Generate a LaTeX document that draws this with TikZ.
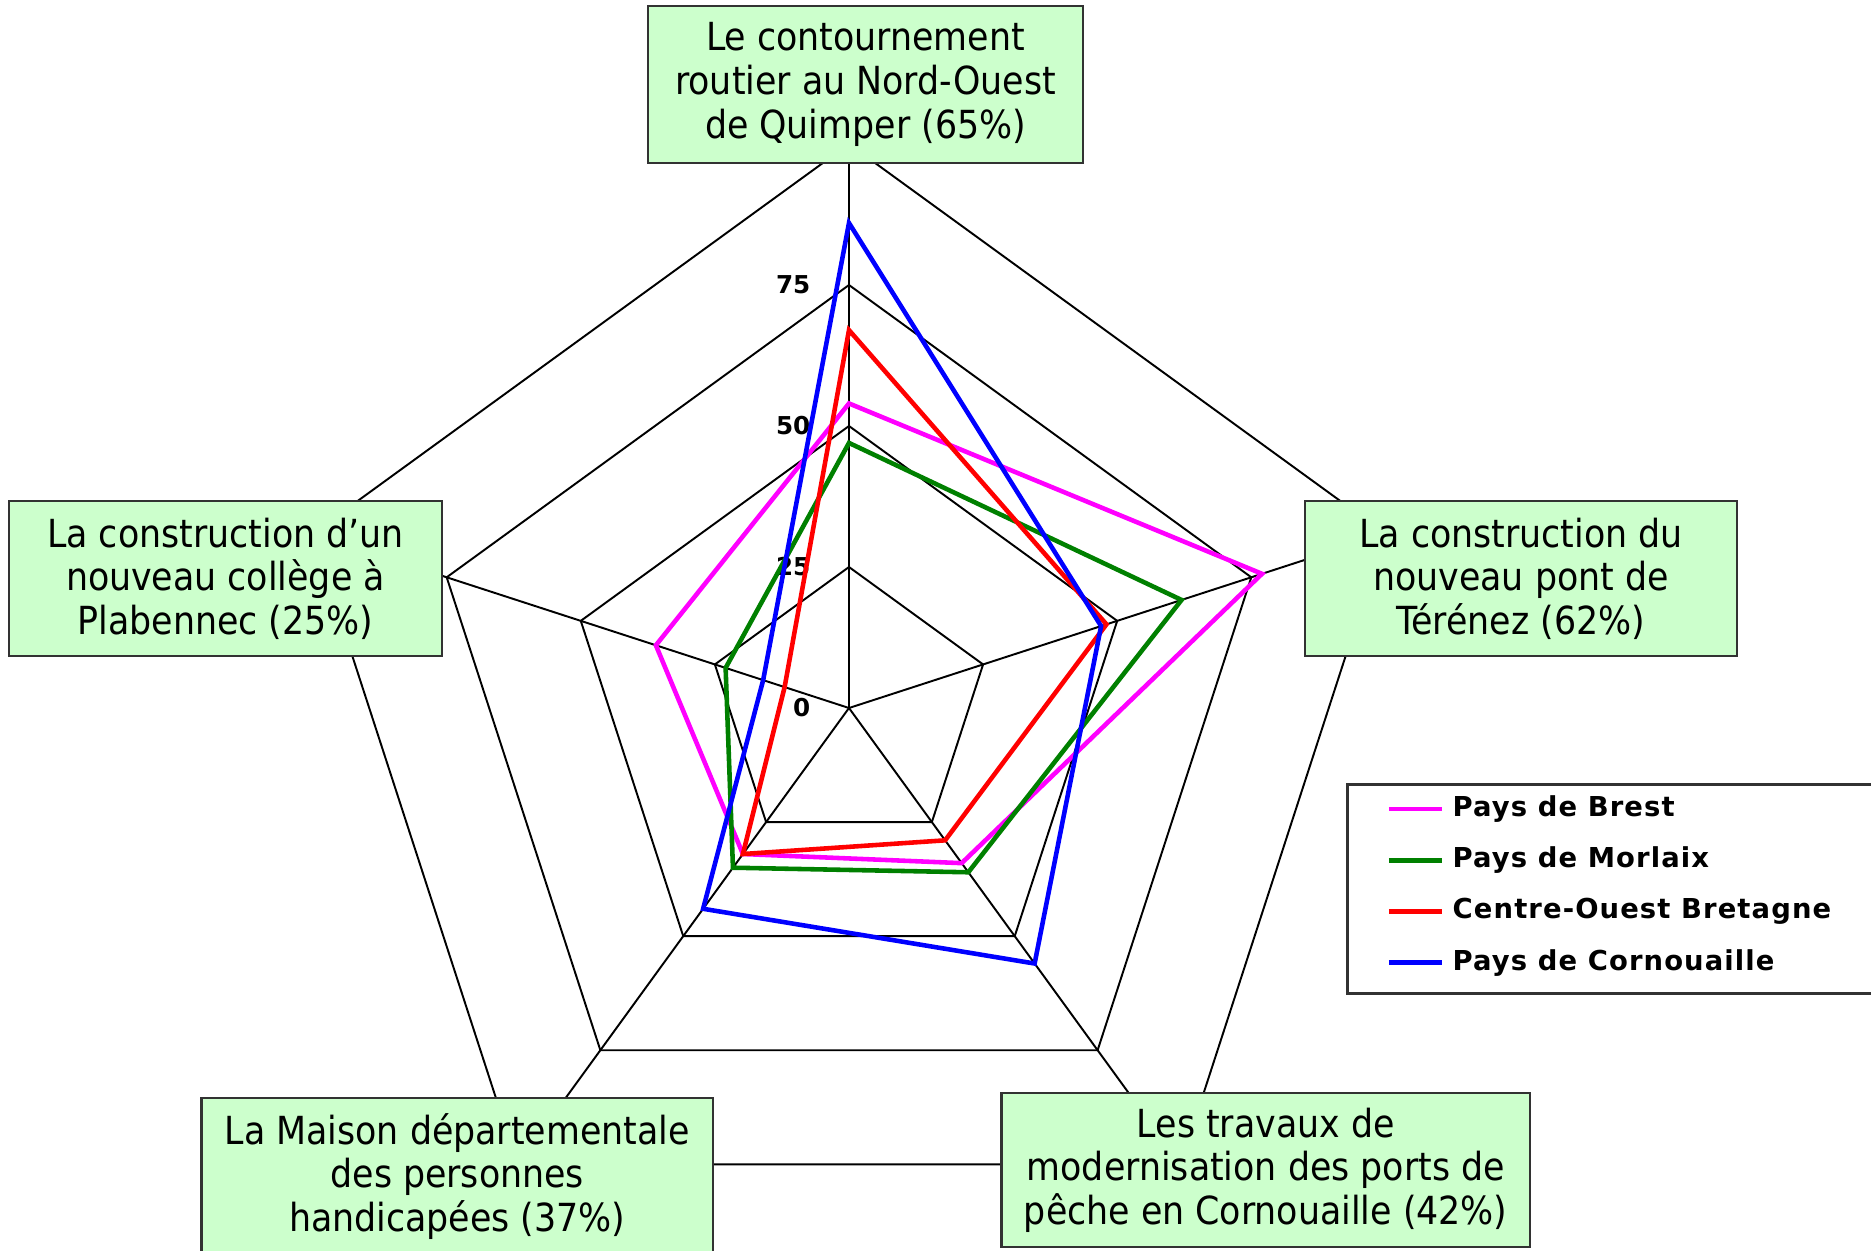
\documentclass[tikz,border=0pt]{standalone}
\usepackage{fontspec}
\setmainfont{DejaVu Sans Condensed}
\newfontfamily\legfont{DejaVu Sans}[LetterSpace=4]
\newfontfamily\gradfont{DejaVu Sans}
\definecolor{vertclair}{RGB}{204,255,204}
\definecolor{vertfonce}{RGB}{0,128,0}
\definecolor{rose}{RGB}{255,0,255}
\definecolor{rouge}{RGB}{255,0,0}
\definecolor{bleu}{RGB}{0,0,255}
\definecolor{bordgris}{RGB}{50,50,50}

\begin{document}
\begin{tikzpicture}[x=0.01cm, y=0.01cm,
  boite/.style={draw=bordgris, line width=0.7pt, fill=vertclair, align=center, inner sep=0pt,
    font=\fontsize{11}{12.4}\selectfont},
  serie/.style={line width=1.3pt, line join=miter}]
  \useasboundingbox (-849,-542) rectangle (1022,708);
  \coordinate (o) at (0,0);
  % toile
  \foreach \r in {141,282,423,564}
    \draw[line width=0.55pt] (90:\r) -- (18:\r) -- (-54:\r) -- (-126:\r) -- (162:\r) -- cycle;
  \foreach \a [count=\i from 0] in {90,18,-54,-126,162}{
    \coordinate (a\i) at (\a:564);
    \draw[line width=0.55pt] (o) -- (a\i);
  }
  % graduations
  \foreach \v/\r in {0/0,25/141,50/282,75/423}
    \node[anchor=east, inner sep=0pt, font=\gradfont\fontsize{7}{8}\bfseries] (g\v) at (-38,\r) {\v};
  % pays
  \foreach \c/\p/\q/\s/\t/\u in {rose/54/77/34/32/36, vertfonce/47/62/36/35/23,
      rouge/67/48/29/32/12, bleu/86/47/56/44/16}
    \draw[serie, \c] (90:{5.64*\p}) -- (18:{5.64*\q}) -- (-54:{5.64*\s}) -- (-126:{5.64*\t})
      -- (162:{5.64*\u}) -- cycle;
  % projets
  \node[boite, minimum width=4.35cm, minimum height=1.57cm] (quimper) at (16.5,623.5)
    {Le contournement\\routier au Nord-Ouest\\de Quimper (65\%)};
  \node[boite, minimum width=4.32cm, minimum height=1.55cm] (terenez) at (672,129.5)
    {La construction du\\nouveau pont de\\Térénez (62\%)};
  \node[boite, minimum width=5.28cm, minimum height=1.54cm] (ports) at (416.8,-462)
    {Les travaux de\\modernisation des ports de\\pêche en Cornouaille (42\%)};
  \node[boite, minimum width=5.11cm, minimum height=1.57cm] (maison) at (-391.7,-468.5)
    {La Maison départementale\\des personnes\\handicapées (37\%)};
  \node[boite, minimum width=4.33cm, minimum height=1.55cm] (plabennec) at (-623.5,129.5)
    {La construction d’un\\nouveau collège à\\Plabennec (25\%)};
  % legende
  \node[draw=bordgris, line width=0.8pt, fill=white, anchor=north west, inner sep=0pt,
    minimum width=5.4cm, minimum height=2.09cm] (legende) at (497,-75) {};
  \foreach \c/\nom [count=\k from 0] in {rose/Pays de Brest, vertfonce/Pays de Morlaix,
      rouge/Centre-Ouest Bretagne, bleu/Pays de Cornouaille}{
    \coordinate (l\k) at (540,-101.3-51.1*\k);
    \coordinate (m\k) at (593,-101.3-51.1*\k);
    \draw[\c, line width=1.2pt] (l\k) -- (m\k);
    \node[anchor=west, inner sep=0pt, font=\legfont\fontsize{7.8}{9}\bfseries] (n\k) at (603,-101.3-51.1*\k) {\nom};
  }
\end{tikzpicture}
\end{document}
